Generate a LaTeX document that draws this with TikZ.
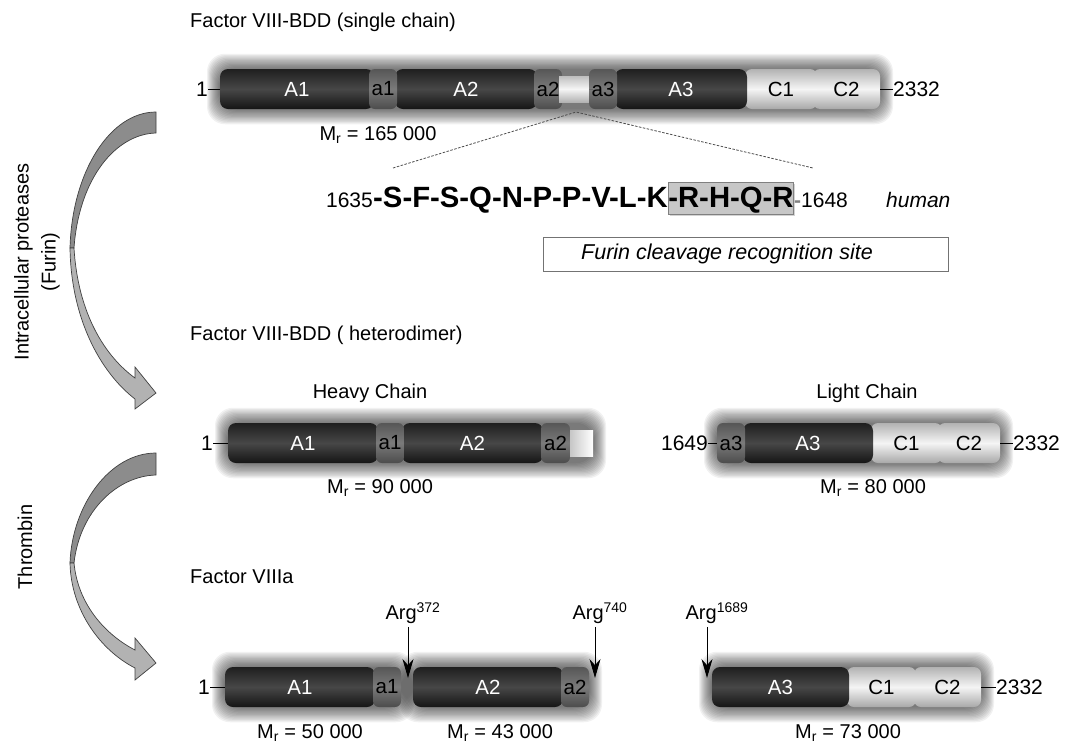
\documentclass[tikz,border=0pt]{standalone}
\usepackage{fontspec}
\setmainfont{Liberation Sans}
\usetikzlibrary{arrows.meta,shadows}
\begin{document}
\begin{tikzpicture}[x=1pt,y=-1pt,
  lab/.style={font=\fontsize{20}{24}\selectfont, inner sep=0pt},
  num/.style={font=\fontsize{21}{24}\selectfont, inner sep=0pt},
  dombase/.style={inner sep=0pt, outer sep=0pt, minimum height=40pt, font=\fontsize{20.5}{22}\selectfont},
  Adom/.style={dombase, rounded corners=8pt, top color=black!88, bottom color=black!92, middle color=black!72, text=white},
  adom/.style={dombase, rounded corners=6pt, top color=black!66, bottom color=black!70, middle color=black!52, text=black},
  Cdom/.style={dombase, rounded corners=7pt, top color=black!30, bottom color=black!34, middle color=black!4, text=black},
  linkdom/.style={inner sep=0pt, outer sep=0pt, minimum height=26pt, top color=black!25, bottom color=black!30, middle color=black!4},
  conn/.style={line width=0.8pt, black},
  cut/.style={line width=0.9pt, -{Stealth[length=19pt,width=11pt]}},
  band/.style={draw=black!75, line width=0.7pt},
  seqfont/.style={font=\fontsize{29.3}{31}\selectfont\bfseries},
]
\useasboundingbox (0,0) rectangle (1070,745);
\newcommand\barglow[3]{%
  \foreach \k in {1,...,13}{%
    \fill[black,opacity=0.055,rounded corners=18pt] ({#1-1.0*\k},{#3-19-1.25*\k}) rectangle ({#2+1.0*\k},{#3+19+1.25*\k});}}

% ---------- left curved arrows ----------
\filldraw[band, fill=black!45] (156,112) -- (156,133) .. controls (116,134) and (79,178) .. (74,248) -- (70,248) .. controls (72,172) and (110,112) .. cycle;
\filldraw[band, fill=black!30] (70,248) .. controls (71,318) and (100,372) .. (135,399) -- (135,409) -- (156,393) -- (135,367) -- (135,378) .. controls (106,357) and (78,315) .. (74,248) -- cycle;
\filldraw[band, fill=black!45] (156,453) -- (156,475) .. controls (118,476) and (80,510) .. (74,563) -- (70,563) .. controls (72,505) and (110,453) .. cycle;
\filldraw[band, fill=black!30] (70,563) .. controls (71,610) and (100,650) .. (135,668) -- (135,680) -- (156,663) -- (135,638) -- (135,650) .. controls (106,635) and (78,605) .. (74,563) -- cycle;
\node[lab, rotate=90, align=center, font=\fontsize{20}{27}\selectfont] (intra) at (37,262) {Intracellular proteases\\(Furin)};
\node[lab, rotate=90] (thr) at (25,547) {Thrombin};

% ---------- row 1 ----------
\node[lab, anchor=west] (t1) at (190,22) {Factor VIII-BDD (single chain)};
\barglow{220}{880}{89}
\node[Adom, minimum width=154pt] (r1A1) at (297,89) {A1};
\node[Adom, minimum width=142pt] (r1A2) at (466,89) {A2};
\node[adom, minimum width=28pt] (r1a1) at (383,89) {a1};
\node[adom, minimum width=28pt] (r1a2) at (548,89) {a2};
\node[linkdom, minimum width=34pt] (r1lk) at (576,89) {};
\node[Cdom, minimum width=67pt] (r1C2) at (846.5,89) {C2};
\node[Cdom, minimum width=72pt] (r1C1) at (781,89) {C1};
\node[Adom, minimum width=132pt] (r1A3) at (681,89) {A3};
\node[adom, minimum width=28pt] (r1a3) at (603,89) {a3};
\node[num, anchor=east] (r1s) at (208,89) {1};
\node[num, anchor=west] (r1e) at (893,89) {2332};
\draw[conn] (r1s.east) -- (r1A1.west);
\draw[conn] (r1C2.east) -- (r1e.west);
\draw[conn, black!60] (r1lk.east) -- (r1a3.west);
\node[lab] (r1mr) at (378,135) {M\textsubscript{r} = 165 000};
\coordinate (apex) at (576,112);
\coordinate (dl) at (393,168);
\coordinate (dr) at (813,168);
\draw[black!70, line width=0.8pt, dash pattern=on 2.5pt off 1.5pt] (dl) -- (apex) -- (dr);

% ---------- sequence ----------
\node[num, anchor=base east] (n1635) at (373,207) {1635};
\node[anchor=base west, inner sep=0pt, seqfont] (seqa) at (n1635.base east) {-S-F-S-Q-N-P-P-V-L-K};
\node[anchor=base west, inner xsep=0pt, inner ysep=0pt, text height=25pt, text depth=7pt, fill=black!22, draw=black!50, line width=0.7pt, drop shadow={shadow xshift=1.5pt, shadow yshift=-1.5pt, opacity=0.35}, seqfont] (seqb) at (seqa.base east) {-R-H-Q-R};
\node[num, anchor=base west] (n1648) at (seqb.base east) {\textcolor{black!50}{\textbf{-}}1648};
\node[num, anchor=base west, font=\fontsize{21}{24}\selectfont\itshape] (human) at (886,207) {human};
\node[draw=black!55, line width=0.8pt, minimum width=405pt, minimum height=34pt, inner sep=0pt] (furin) at (745.5,254) {};
\node[font=\fontsize{21.5}{24}\selectfont\itshape, inner sep=0pt] (furintext) at (727,254) {Furin cleavage recognition site};

% ---------- row 2 ----------
\node[lab, anchor=west] (t2) at (190,335) {Factor VIII-BDD ( heterodimer)};
\node[lab] (hc) at (370,393) {Heavy Chain};
\node[lab] (lc) at (867,393) {Light Chain};
\barglow{228}{593}{443}
\barglow{717}{1000}{443}
\node[linkdom, minimum width=26pt, right color=white, left color=black!25] (r2lk) at (580,443) {};
\node[Adom, minimum width=150pt] (r2A1) at (303,443) {A1};
\node[Adom, minimum width=141pt] (r2A2) at (472.5,443) {A2};
\node[adom, minimum width=28pt] (r2a1) at (390,443) {a1};
\node[adom, minimum width=29pt] (r2a2) at (555.5,443) {a2};
\node[num, anchor=east] (r2s) at (213,443) {1};
\draw[conn] (r2s.east) -- (r2A1.west);
\node[lab] (r2mr) at (380,488) {M\textsubscript{r} = 90 000};
\node[Cdom, minimum width=62pt] (r2C2) at (969,443) {C2};
\node[Cdom, minimum width=71pt] (r2C1) at (906.5,443) {C1};
\node[Adom, minimum width=130pt] (r2A3) at (808,443) {A3};
\node[adom, minimum width=28pt] (r2a3) at (731,443) {a3};
\node[num, anchor=east] (r2ls) at (708,443) {1649};
\node[num, anchor=west] (r2le) at (1013,443) {2332};
\draw[conn] (r2ls.east) -- (r2a3.west);
\draw[conn] (r2C2.east) -- (r2le.west);
\node[lab] (r2mr2) at (873,488) {M\textsubscript{r} = 80 000};

% ---------- row 3 ----------
\node[lab, anchor=west] (t3) at (190,577) {Factor VIIIa};
\barglow{225}{401}{687}
\barglow{413}{589}{687}
\barglow{712}{981}{687}
\node[Adom, minimum width=150pt] (r3A1) at (300,687) {A1};
\node[adom, minimum width=28pt] (r3a1) at (387,687) {a1};
\node[Adom, minimum width=150pt] (r3A2) at (488,687) {A2};
\node[adom, minimum width=28pt] (r3a2) at (575,687) {a2};
\node[Cdom, minimum width=67pt] (r3C2) at (947.5,687) {C2};
\node[Cdom, minimum width=69pt] (r3C1) at (881.5,687) {C1};
\node[Adom, minimum width=137pt] (r3A3) at (780.5,687) {A3};
\node[num, anchor=east] (r3s) at (210,687) {1};
\node[num, anchor=west] (r3e) at (996,687) {2332};
\draw[conn] (r3s.east) -- (r3A1.west);
\draw[conn] (r3C2.east) -- (r3e.west);
\node[lab] (arg1) at (413,613) {Arg\textsuperscript{372}};
\node[lab] (arg2) at (600,613) {Arg\textsuperscript{740}};
\node[lab] (arg3) at (717,613) {Arg\textsuperscript{1689}};
\coordinate (tip1) at (408,678);
\coordinate (tip2) at (595,678);
\coordinate (tip3) at (707,678);
\draw[cut] (arg1.south -| tip1) ++(0,3) -- (tip1);
\draw[cut] (arg2.south -| tip2) ++(0,3) -- (tip2);
\draw[cut] (arg3.south -| tip3) ++(0,3) -- (tip3);
\node[lab] (r3mr1) at (310,733) {M\textsubscript{r} = 50 000};
\node[lab] (r3mr2) at (500,733) {M\textsubscript{r} = 43 000};
\node[lab] (r3mr3) at (848,733) {M\textsubscript{r} = 73 000};
\end{tikzpicture}
\end{document}
